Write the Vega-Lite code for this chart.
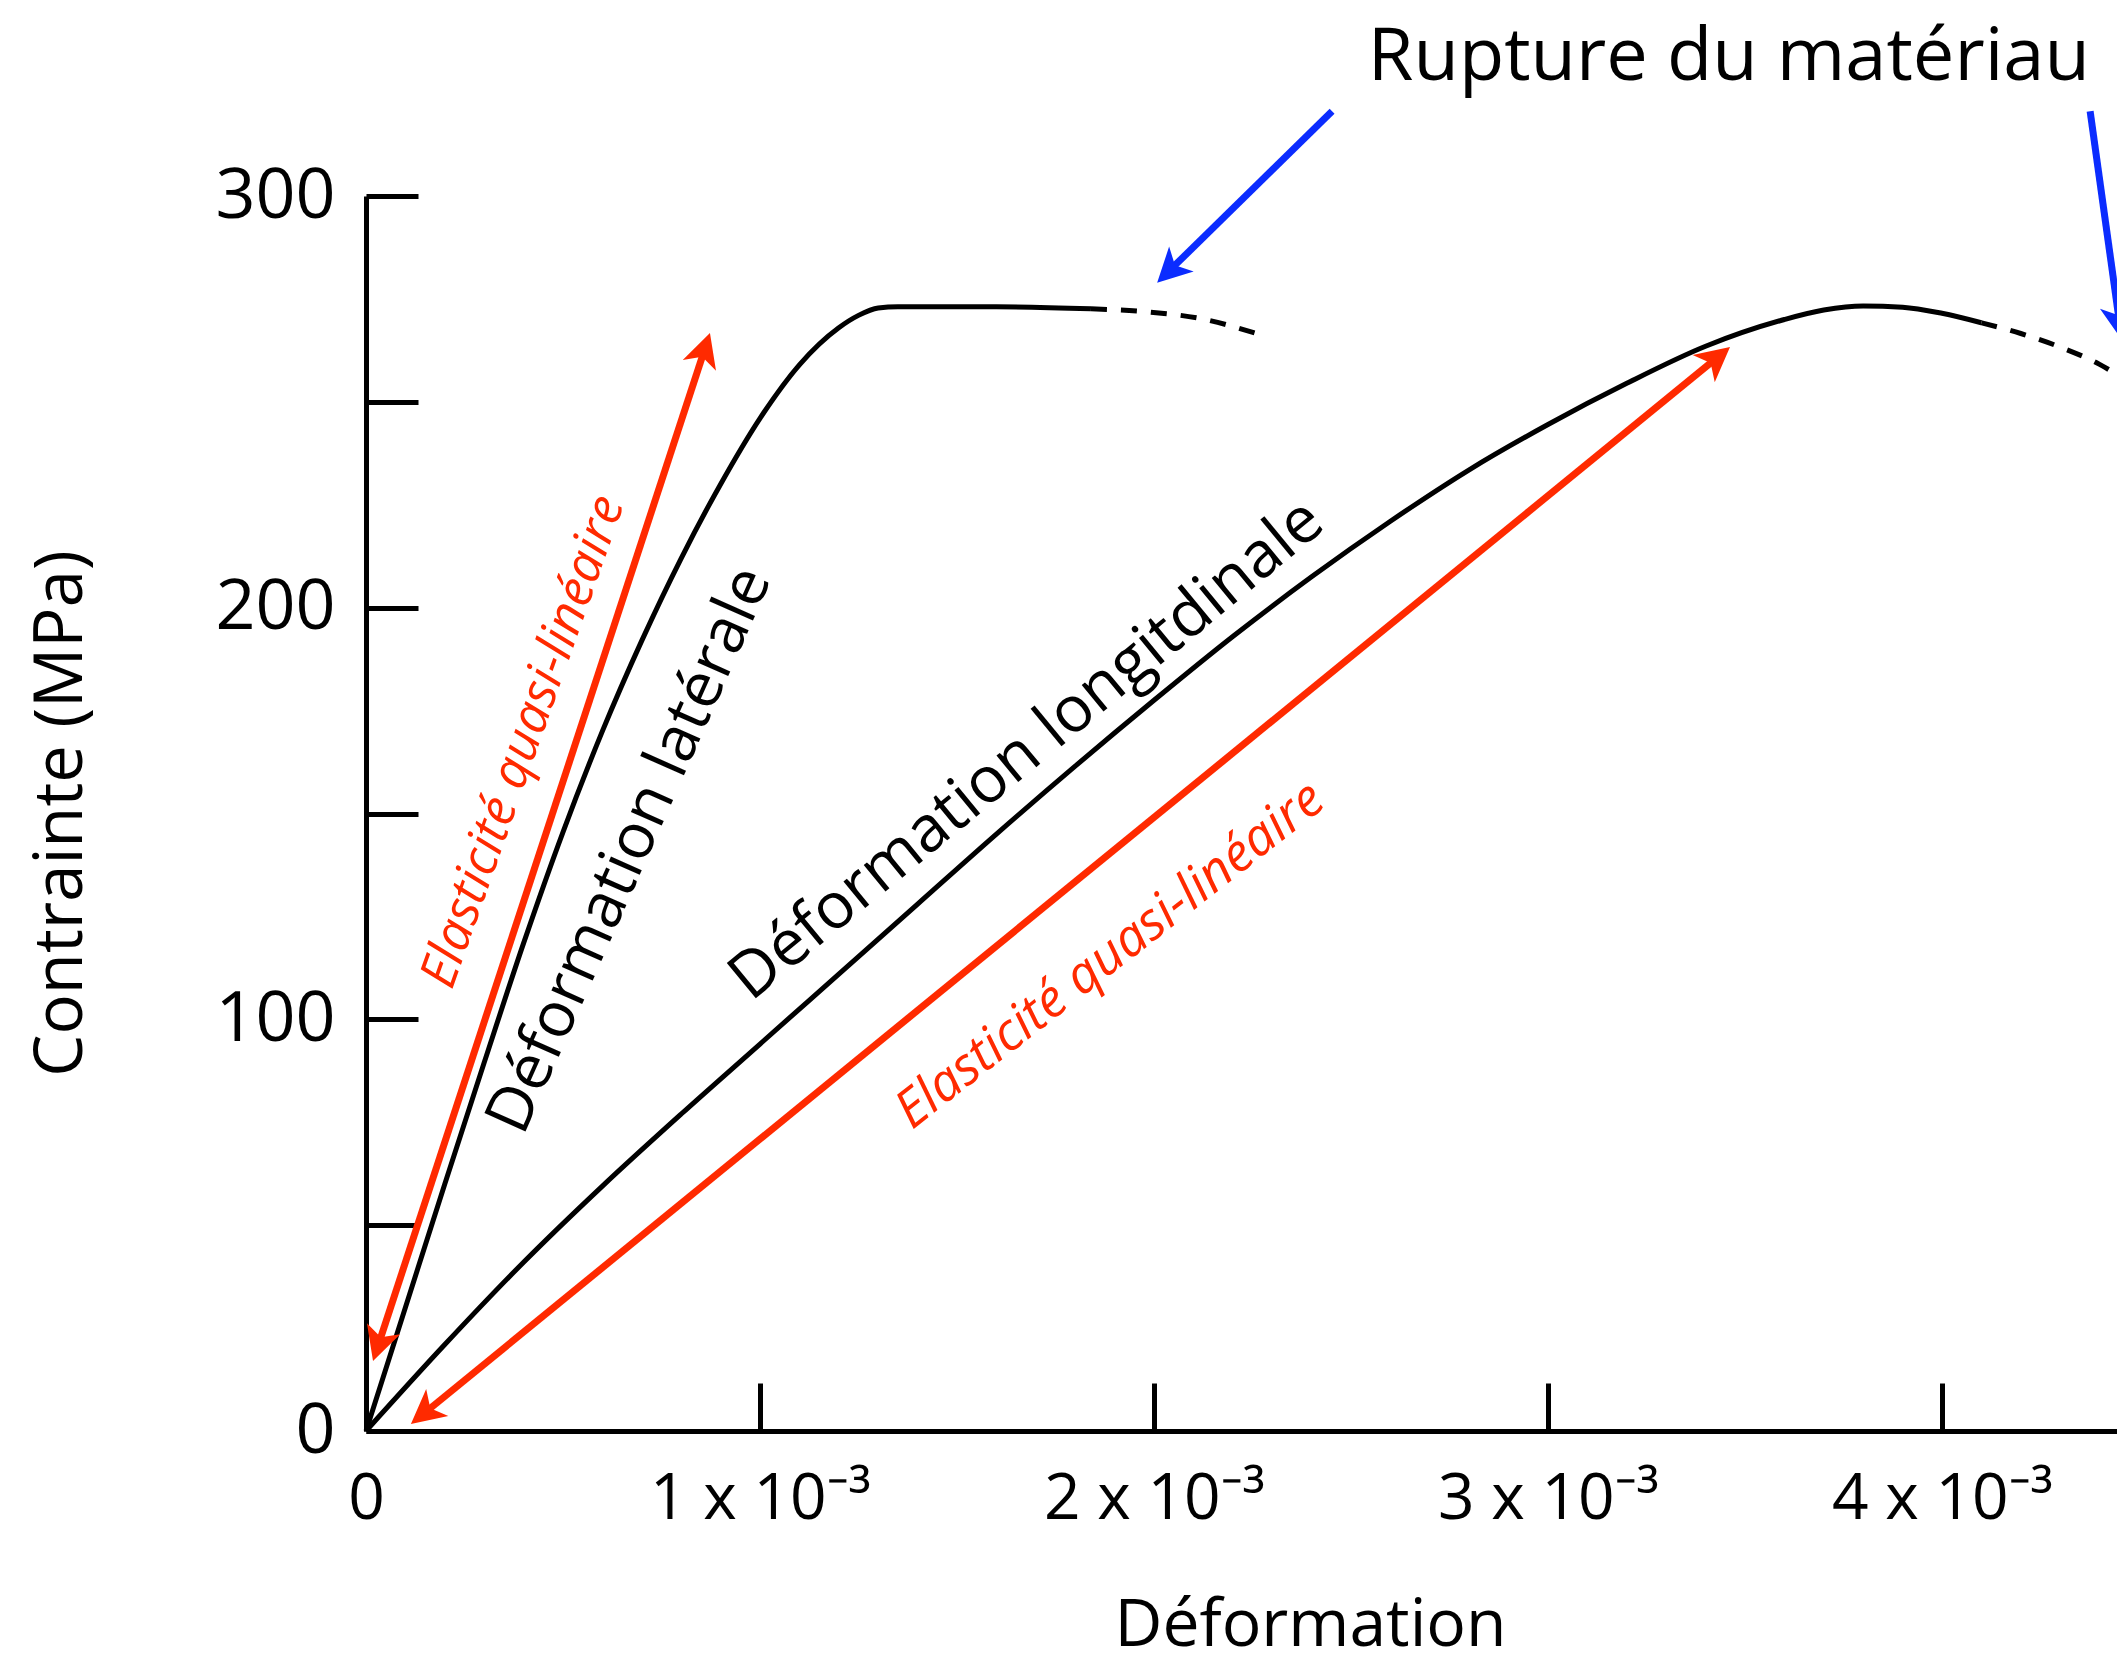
{
  "$schema": "https://vega.github.io/schema/vega-lite/v6.json",
  "autosize": "none",
  "padding": {"left": 366, "top": 196, "right": 0, "bottom": 233},
  "width": 1751,
  "height": 1235,
  "background": "white",
  "config": {
    "view": {"stroke": null},
    "font": "Open Sans",
    "text": {"font": "Open Sans"}
  },
  "datasets": {
    "curves": [
      {"series": "lat", "part": "solid", "x": 0, "y": 0},
      {"series": "lat", "part": "solid", "x": 0.0001, "y": 30},
      {"series": "lat", "part": "solid", "x": 0.0002, "y": 60},
      {"series": "lat", "part": "solid", "x": 0.0003, "y": 89.5},
      {"series": "lat", "part": "solid", "x": 0.0004, "y": 118.5},
      {"series": "lat", "part": "solid", "x": 0.0005, "y": 145.5},
      {"series": "lat", "part": "solid", "x": 0.0006, "y": 170},
      {"series": "lat", "part": "solid", "x": 0.0007, "y": 192},
      {"series": "lat", "part": "solid", "x": 0.0008, "y": 212},
      {"series": "lat", "part": "solid", "x": 0.0009, "y": 230},
      {"series": "lat", "part": "solid", "x": 0.0010, "y": 246},
      {"series": "lat", "part": "solid", "x": 0.0011, "y": 259},
      {"series": "lat", "part": "solid", "x": 0.0012, "y": 268},
      {"series": "lat", "part": "solid", "x": 0.00125, "y": 271},
      {"series": "lat", "part": "solid", "x": 0.0013, "y": 272.8},
      {"series": "lat", "part": "solid", "x": 0.00135, "y": 273.1},
      {"series": "lat", "part": "solid", "x": 0.0016, "y": 273.1},
      {"series": "lat", "part": "solid", "x": 0.00184, "y": 272.6},
      {"series": "lat", "part": "dash", "x": 0.00184, "y": 272.6},
      {"series": "lat", "part": "dash", "x": 0.00199, "y": 271.8},
      {"series": "lat", "part": "dash", "x": 0.00212, "y": 270.2},
      {"series": "lat", "part": "dash", "x": 0.00226, "y": 266.6},
      {"series": "long", "part": "solid", "x": 0, "y": 0},
      {"series": "long", "part": "solid", "x": 0.0002, "y": 21},
      {"series": "long", "part": "solid", "x": 0.0004, "y": 41},
      {"series": "long", "part": "solid", "x": 0.0006, "y": 59.5},
      {"series": "long", "part": "solid", "x": 0.0008, "y": 77},
      {"series": "long", "part": "solid", "x": 0.0010, "y": 94},
      {"series": "long", "part": "solid", "x": 0.0012, "y": 111},
      {"series": "long", "part": "solid", "x": 0.0014, "y": 128},
      {"series": "long", "part": "solid", "x": 0.0016, "y": 145},
      {"series": "long", "part": "solid", "x": 0.0018, "y": 161.5},
      {"series": "long", "part": "solid", "x": 0.0020, "y": 177.5},
      {"series": "long", "part": "solid", "x": 0.0022, "y": 193},
      {"series": "long", "part": "solid", "x": 0.0024, "y": 207.5},
      {"series": "long", "part": "solid", "x": 0.0026, "y": 221},
      {"series": "long", "part": "solid", "x": 0.0028, "y": 233.5},
      {"series": "long", "part": "solid", "x": 0.0030, "y": 244.5},
      {"series": "long", "part": "solid", "x": 0.0032, "y": 254.5},
      {"series": "long", "part": "solid", "x": 0.0034, "y": 263.5},
      {"series": "long", "part": "solid", "x": 0.0036, "y": 270},
      {"series": "long", "part": "solid", "x": 0.0037, "y": 272.3},
      {"series": "long", "part": "solid", "x": 0.0038, "y": 273.3},
      {"series": "long", "part": "solid", "x": 0.0039, "y": 273},
      {"series": "long", "part": "solid", "x": 0.0040, "y": 271.5},
      {"series": "long", "part": "solid", "x": 0.0041, "y": 269.2},
      {"series": "long", "part": "dash", "x": 0.0041, "y": 269.2},
      {"series": "long", "part": "dash", "x": 0.0042, "y": 266.6},
      {"series": "long", "part": "dash", "x": 0.0043, "y": 263.3},
      {"series": "long", "part": "dash", "x": 0.0044, "y": 259.1},
      {"series": "long", "part": "dash", "x": 0.00448, "y": 254.4}
    ],
    "shafts": [
      {"arrow": "r1", "kind": "élasticité", "x": 0.0000353, "y": 22.08},
      {"arrow": "r1", "kind": "élasticité", "x": 0.0008556, "y": 261.6},
      {"arrow": "r2", "kind": "élasticité", "x": 0.0001574, "y": 5.08},
      {"arrow": "r2", "kind": "élasticité", "x": 0.0034188, "y": 259.9},
      {"arrow": "b1", "kind": "rupture", "x": 0.002452, "y": 320.6},
      {"arrow": "b1", "kind": "rupture", "x": 0.0020439, "y": 282.3},
      {"arrow": "b2", "kind": "rupture", "x": 0.004376, "y": 320.6},
      {"arrow": "b2", "kind": "rupture", "x": 0.0044497, "y": 269.8}
    ],
    "heads": [
      {"head": "r1top", "kind": "élasticité", "x": 0.000873, "y": 266.7},
      {"head": "r1bot", "kind": "élasticité", "x": 0.0000178, "y": 17.0},
      {"head": "r2top", "kind": "élasticité", "x": 0.003462, "y": 263.3},
      {"head": "r2bot", "kind": "élasticité", "x": 0.000114, "y": 1.7},
      {"head": "b1", "kind": "rupture", "x": 0.002008, "y": 278.9},
      {"head": "b2", "kind": "rupture", "x": 0.004457, "y": 265.0}
    ],
    "labels": [
      {"id": "rupture", "text": "Rupture du matériau", "x": 0.003459, "y": 333.6},
      {"id": "lat", "text": "Déformation latérale", "x": 0.00067, "y": 141.1},
      {"id": "long", "text": "Déformation longitdinale", "x": 0.0016777, "y": 165.4},
      {"id": "el1", "text": "Elasticité quasi-linéaire", "x": 0.000401, "y": 167.4},
      {"id": "el2", "text": "Elasticité quasi-linéaire", "x": 0.0018883, "y": 115.6}
    ]
  },
  "encoding": {
    "x": {
      "field": "x", "type": "quantitative",
      "scale": {"domain": [0, 0.0044442], "nice": false, "zero": false},
      "axis": {
        "values": [0, 0.001, 0.002, 0.003, 0.004],
        "labelExpr": "datum.value == 0 ? '0' : format(datum.value * 1000, 'd') + ' x 10⁻³'",
        "grid": false,
        "domainColor": "black", "domainWidth": 5,
        "tickColor": "black", "tickWidth": 5, "tickSize": -48,
        "labelFont": "Open Sans", "labelFontSize": 64, "labelColor": "black", "labelLimit": 0,
        "labelPadding": 84, "labelFlush": false, "labelOverlap": false,
        "title": "Déformation",
        "titleFont": "Open Sans", "titleFontSize": 66, "titleFontWeight": "normal", "titleColor": "black",
        "titleX": 944, "titleY": 214, "titleAlign": "center", "titleBaseline": "alphabetic"
      }
    },
    "y": {
      "field": "y", "type": "quantitative",
      "scale": {"domain": [0, 300], "nice": false},
      "axis": {
        "values": [0, 50, 100, 150, 200, 250, 300],
        "labelExpr": "datum.value % 100 == 0 ? datum.label : ''",
        "grid": false,
        "domainColor": "black", "domainWidth": 5,
        "tickColor": "black", "tickWidth": 5, "tickSize": -52,
        "labelFont": "Open Sans", "labelFontSize": 70, "labelColor": "black",
        "labelPadding": 83, "labelFlush": false, "labelOverlap": false,
        "title": "Contrainte (MPa)",
        "titleFont": "Open Sans", "titleFontSize": 67, "titleFontWeight": "normal", "titleColor": "black",
        "titleX": -285, "titleY": 617, "titleAngle": -90, "titleAlign": "center", "titleBaseline": "alphabetic"
      }
    }
  },
  "layer": [
    {
      "data": {"name": "curves"},
      "transform": [{"filter": "datum.part == 'solid'"}],
      "mark": {"type": "line", "interpolate": "monotone", "color": "black", "strokeWidth": 5},
      "encoding": {"detail": {"field": "series"}}
    },
    {
      "data": {"name": "curves"},
      "transform": [{"filter": "datum.part == 'dash'"}],
      "mark": {"type": "line", "interpolate": "monotone", "color": "black", "strokeWidth": 5, "strokeDash": [16, 14]},
      "encoding": {"detail": {"field": "series"}}
    },
    {
      "data": {"name": "shafts"},
      "mark": {"type": "line", "strokeWidth": 7},
      "encoding": {
        "detail": {"field": "arrow"},
        "color": {"field": "kind", "type": "nominal", "scale": {"domain": ["élasticité", "rupture"], "range": ["#ff2a00", "#0b2cff"]}, "legend": null}
      }
    },
    {
      "data": {"name": "heads"},
      "transform": [{"filter": "datum.head == 'r1top'"}],
      "mark": {"type": "point", "filled": true, "opacity": 1, "size": 1600, "angle": 18.15, "shape": "M0,0 L0.875,1.7 L0,1.25 L-0.875,1.7 Z"},
      "encoding": {"color": {"field": "kind", "type": "nominal", "scale": {"domain": ["élasticité", "rupture"], "range": ["#ff2a00", "#0b2cff"]}, "legend": null}}
    },
    {
      "data": {"name": "heads"},
      "transform": [{"filter": "datum.head == 'r1bot'"}],
      "mark": {"type": "point", "filled": true, "opacity": 1, "size": 1600, "angle": 198.15, "shape": "M0,0 L0.875,1.7 L0,1.25 L-0.875,1.7 Z"},
      "encoding": {"color": {"field": "kind", "type": "nominal", "scale": {"domain": ["élasticité", "rupture"], "range": ["#ff2a00", "#0b2cff"]}, "legend": null}}
    },
    {
      "data": {"name": "heads"},
      "transform": [{"filter": "datum.head == 'r2top'"}],
      "mark": {"type": "point", "filled": true, "opacity": 1, "size": 1600, "angle": 50.77, "shape": "M0,0 L0.875,1.7 L0,1.25 L-0.875,1.7 Z"},
      "encoding": {"color": {"field": "kind", "type": "nominal", "scale": {"domain": ["élasticité", "rupture"], "range": ["#ff2a00", "#0b2cff"]}, "legend": null}}
    },
    {
      "data": {"name": "heads"},
      "transform": [{"filter": "datum.head == 'r2bot'"}],
      "mark": {"type": "point", "filled": true, "opacity": 1, "size": 1600, "angle": 230.77, "shape": "M0,0 L0.875,1.7 L0,1.25 L-0.875,1.7 Z"},
      "encoding": {"color": {"field": "kind", "type": "nominal", "scale": {"domain": ["élasticité", "rupture"], "range": ["#ff2a00", "#0b2cff"]}, "legend": null}}
    },
    {
      "data": {"name": "heads"},
      "transform": [{"filter": "datum.head == 'b1'"}],
      "mark": {"type": "point", "filled": true, "opacity": 1, "size": 1600, "angle": 225.5, "shape": "M0,0 L0.875,1.7 L0,1.25 L-0.875,1.7 Z"},
      "encoding": {"color": {"field": "kind", "type": "nominal", "scale": {"domain": ["élasticité", "rupture"], "range": ["#ff2a00", "#0b2cff"]}, "legend": null}}
    },
    {
      "data": {"name": "heads"},
      "transform": [{"filter": "datum.head == 'b2'"}],
      "mark": {"type": "point", "filled": true, "opacity": 1, "size": 1600, "angle": 172.0, "shape": "M0,0 L0.875,1.7 L0,1.25 L-0.875,1.7 Z"},
      "encoding": {"color": {"field": "kind", "type": "nominal", "scale": {"domain": ["élasticité", "rupture"], "range": ["#ff2a00", "#0b2cff"]}, "legend": null}}
    },
    {
      "data": {"name": "labels"},
      "transform": [{"filter": "datum.id == 'rupture'"}],
      "mark": {"type": "text", "font": "Open Sans", "fontSize": 74, "color": "black", "align": "center", "baseline": "middle"},
      "encoding": {"text": {"field": "text"}}
    },
    {
      "data": {"name": "labels"},
      "transform": [{"filter": "datum.id == 'lat'"}],
      "mark": {"type": "text", "font": "Open Sans", "fontSize": 63, "color": "black", "align": "center", "baseline": "middle", "angle": -66},
      "encoding": {"text": {"field": "text"}}
    },
    {
      "data": {"name": "labels"},
      "transform": [{"filter": "datum.id == 'long'"}],
      "mark": {"type": "text", "font": "Open Sans", "fontSize": 64, "color": "black", "align": "center", "baseline": "middle", "angle": -39.5},
      "encoding": {"text": {"field": "text"}}
    },
    {
      "data": {"name": "labels"},
      "transform": [{"filter": "datum.id == 'el1'"}],
      "mark": {"type": "text", "font": "Open Sans", "fontSize": 51, "fontStyle": "italic", "color": "#ff2a00", "align": "center", "baseline": "middle", "angle": -70.5},
      "encoding": {"text": {"field": "text"}}
    },
    {
      "data": {"name": "labels"},
      "transform": [{"filter": "datum.id == 'el2'"}],
      "mark": {"type": "text", "font": "Open Sans", "fontSize": 52, "fontStyle": "italic", "color": "#ff2a00", "align": "center", "baseline": "middle", "angle": -38},
      "encoding": {"text": {"field": "text"}}
    }
  ]
}
